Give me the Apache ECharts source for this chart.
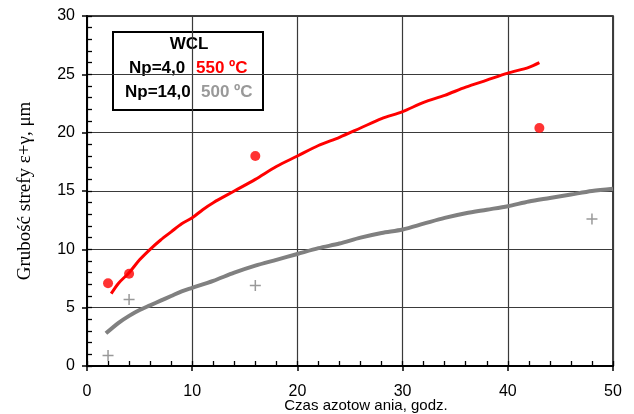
<!DOCTYPE html>
<html>
<head>
<meta charset="utf-8">
<script src="https://cdn.jsdelivr.net/npm/echarts@6/dist/echarts.min.js"></script>
<style>html,body{margin:0;padding:0;background:#fff;}#c{width:634px;height:414px;}</style>
</head>
<body>
<div id="c"></div>
<script>
// ---- data ----
var redCurveX = [2.3, 3, 4, 5, 6, 7, 8, 9, 10, 11, 12, 14, 16, 18, 20, 22, 24, 26, 28, 30, 32, 34, 36, 38, 40, 42, 43];
var redCurveY = [6.2, 7.1, 8.0, 9.1, 10.0, 10.8, 11.5, 12.2, 12.7, 13.4, 14.0, 15.0, 16.0, 17.1, 18.0, 18.9, 19.6, 20.4, 21.2, 21.8, 22.6, 23.2, 23.9, 24.5, 25.1, 25.6, 26.0];
var grayCurveX = [1.8, 3, 4, 5, 6, 7, 8, 9, 10, 12, 14, 16, 18, 20, 22, 24, 26, 28, 30, 32, 34, 36, 38, 40, 42, 44, 46, 48, 50];
var grayCurveY = [2.8, 3.7, 4.3, 4.8, 5.2, 5.6, 6.0, 6.4, 6.7, 7.3, 8.0, 8.6, 9.1, 9.6, 10.1, 10.5, 11.0, 11.4, 11.7, 12.2, 12.7, 13.1, 13.4, 13.7, 14.1, 14.4, 14.7, 15.0, 15.2];
var redPointsX = [2, 4, 16, 43];
var redPointsY = [7.1, 7.9, 18.0, 20.4];
var grayPointsX = [2, 4, 16, 48];
var grayPointsY = [0.9, 5.7, 6.9, 12.6];
var xTicks = [0, 10, 20, 30, 40, 50];
var yTicks = [0, 5, 10, 15, 20, 25, 30];
var xTitle = 'Czas azotow ania, godz.';
var yTitle = 'Grubość strefy ε+γ, μm';
var legendTitle = 'WCL';
var legendRows = [['Np=4,0', '550 ºC'], ['Np=14,0', '500 ºC']];

function zip(a, b) { return a.map(function (v, i) { return [v, b[i]]; }); }

var RED = '#ff0000', GRAY = '#808080';
var sans = 'Liberation Sans, Arial, sans-serif';

var chart = echarts.init(document.getElementById('c'), null, { renderer: 'canvas' });
var option = {
  animation: false,
  backgroundColor: '#fff',
  grid: { left: 87, right: 21, top: 16, bottom: 48, containLabel: false, outerBoundsMode: 'none',
          show: true, borderColor: '#000', borderWidth: 1.5, backgroundColor: 'transparent' },
  xAxis: [{
    type: 'value', min: xTicks[0], max: xTicks[xTicks.length - 1], interval: 10, position: 'bottom',
    name: xTitle, nameLocation: 'middle', nameGap: 32, nameMoveOverlap: false,
    nameTextStyle: { fontFamily: sans, fontSize: 15, color: '#000', padding: [0, 0, 0, 32] },
    axisLine: { show: true, lineStyle: { color: '#000', width: 2 } },
    axisTick: { show: true, inside: true, length: 5, lineStyle: { color: '#000', width: 1.3 } },
    minorTick: { show: true, splitNumber: 5, length: 5, lineStyle: { color: '#000', width: 1.3 } },
    axisLabel: { fontFamily: sans, fontSize: 16, color: '#000', margin: 18 },
    splitLine: { show: true, lineStyle: { color: '#3a3a3a', width: 1.2 } }
  }, {
    type: 'value', min: xTicks[0], max: xTicks[xTicks.length - 1], interval: 10, position: 'bottom', offset: 0,
    axisLine: { show: false },
    axisTick: { show: true, inside: false, length: 5, lineStyle: { color: '#000', width: 1.5 } },
    axisLabel: { show: false }, splitLine: { show: false }
  }],
  yAxis: [{
    type: 'value', min: yTicks[0], max: yTicks[yTicks.length - 1], interval: 5, position: 'left',
    name: yTitle, nameLocation: 'middle', nameGap: 52, nameRotate: 90, nameMoveOverlap: false,
    nameTextStyle: { fontFamily: 'Liberation Serif, Times New Roman, serif', fontSize: 19, color: '#000' },
    axisLine: { show: true, lineStyle: { color: '#000', width: 2 } },
    axisTick: { show: true, inside: true, length: 5, lineStyle: { color: '#000', width: 1.3 } },
    minorTick: { show: true, splitNumber: 5, length: 5, lineStyle: { color: '#000', width: 1.3 } },
    axisLabel: { fontFamily: sans, fontSize: 16, color: '#000', margin: 12 },
    splitLine: { show: true, lineStyle: { color: '#3a3a3a', width: 1.2 } }
  }, {
    type: 'value', min: yTicks[0], max: yTicks[yTicks.length - 1], interval: 5, position: 'left', offset: 0,
    axisLine: { show: false },
    axisTick: { show: true, inside: false, length: 5, lineStyle: { color: '#000', width: 1.5 } },
    axisLabel: { show: false }, splitLine: { show: false }
  }],
  series: [{
    type: 'line', data: zip(grayCurveX, grayCurveY), showSymbol: false, smooth: 0.3,
    lineStyle: { color: GRAY, width: 4 }, z: 3
  }, {
    type: 'line', data: zip(redCurveX, redCurveY), showSymbol: false, smooth: 0.3,
    lineStyle: { color: RED, width: 3 }, z: 4
  }, {
    type: 'scatter', data: zip(redPointsX, redPointsY), symbol: 'circle', symbolSize: 10,
    itemStyle: { color: RED }, z: 5
  }, {
    type: 'scatter', data: zip(grayPointsX, grayPointsY),
    symbol: 'path://M0,5L10,5M5,0L5,10', symbolSize: 11,
    itemStyle: { color: 'none', borderColor: GRAY, borderWidth: 1.5 }, z: 5
  }],
  graphic: [{
    type: 'group', z: 100, children: [
      { type: 'rect', shape: { x: 113, y: 32, width: 150, height: 78 }, style: { fill: '#fff', stroke: '#000', lineWidth: 2 } },
      { type: 'text', x: 189, y: 44, style: { text: legendTitle, font: 'bold 17px ' + sans, fill: '#000', align: 'center', verticalAlign: 'middle' } },
      { type: 'text', x: 129, y: 68, style: { text: legendRows[0][0], font: 'bold 17px ' + sans, fill: '#000', align: 'left', verticalAlign: 'middle' } },
      { type: 'text', x: 196, y: 68, style: { text: legendRows[0][1], font: 'bold 17px ' + sans, fill: RED, align: 'left', verticalAlign: 'middle' } },
      { type: 'text', x: 125, y: 92, style: { text: legendRows[1][0], font: 'bold 17px ' + sans, fill: '#000', align: 'left', verticalAlign: 'middle' } },
      { type: 'text', x: 201, y: 92, style: { text: legendRows[1][1], font: 'bold 17px ' + sans, fill: '#999999', align: 'left', verticalAlign: 'middle' } }
    ]
  }]
};
chart.setOption(option);
</script>
</body>
</html>
